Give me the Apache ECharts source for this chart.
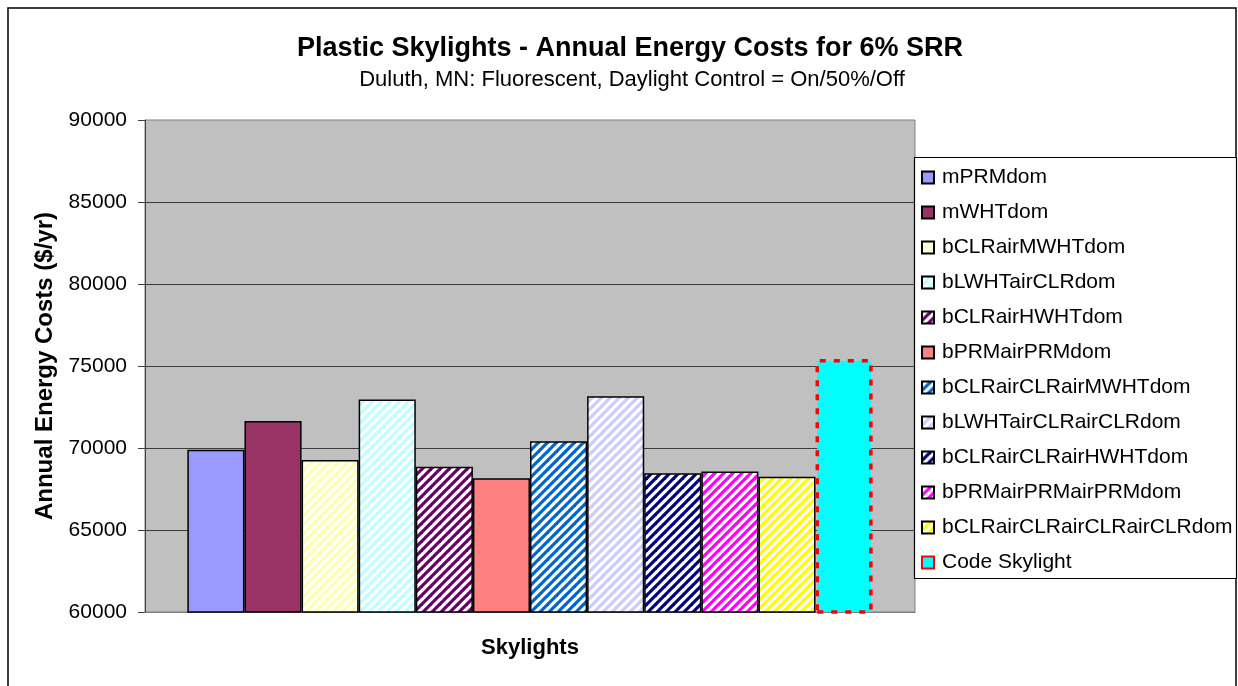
<!DOCTYPE html>
<html>
<head>
<meta charset="utf-8">
<script src="https://cdn.jsdelivr.net/npm/echarts@6/dist/echarts.min.js"></script>
<style>
  html, body { margin: 0; padding: 0; background: #fff; }
  #chart { width: 1238px; height: 686px; }
</style>
</head>
<body>
<div id="chart"></div>
<script>
// ---- data ----
const categories = ['Skylights'];
const seriesNames = [
  'mPRMdom', 'mWHTdom', 'bCLRairMWHTdom', 'bLWHTairCLRdom', 'bCLRairHWHTdom',
  'bPRMairPRMdom', 'bCLRairCLRairMWHTdom', 'bLWHTairCLRairCLRdom',
  'bCLRairCLRairHWHTdom', 'bPRMairPRMairPRMdom', 'bCLRairCLRairCLRairCLRdom', 'Code Skylight'
];
const costs = [69900, 71650, 69270, 72950, 68860, 68150, 70410, 73150, 68460, 68560, 68250, 75430];
const yTicks = [60000, 65000, 70000, 75000, 80000, 85000, 90000];

// ---- styles ----
const seriesColors = ['#9999FF', '#993366', '#FFFFB0', '#C0FFFF', '#660066', '#FF8080',
  '#0066CC', '#CCCCFF', '#000080', '#FF00FF', '#FFFF00', '#00FFFF'];
const striped = [false, false, true, true, true, false, true, true, true, true, true, false];

const FONT = 'Liberation Sans, Arial, sans-serif';

function stripePattern(color) {
  const T = 9;
  const c = document.createElement('canvas');
  c.width = T; c.height = T;
  const ctx = c.getContext('2d');
  ctx.fillStyle = '#FFFFFF';
  ctx.fillRect(0, 0, T, T);
  ctx.strokeStyle = color;
  ctx.lineWidth = 3.2;
  for (let k = -1; k <= 1; k++) {
    ctx.beginPath();
    ctx.moveTo(k * T - 2, T + 2);
    ctx.lineTo(k * T + T + 2, -2);
    ctx.stroke();
  }
  return { image: c, repeat: 'repeat' };
}

const series = seriesNames.map((name, i) => {
  const isCode = name === 'Code Skylight';
  return {
    name: name,
    type: 'bar',
    data: [costs[i]],
    barGap: '0%',
    barCategoryGap: '11%',
    itemStyle: {
      color: striped[i] ? stripePattern(seriesColors[i]) : seriesColors[i],
      borderColor: isCode ? '#FF0000' : '#000000',
      borderWidth: isCode ? 3.5 : 1.5,
      borderType: isCode ? [6, 8] : 'solid'
    },
    emphasis: { disabled: true }
  };
});

const chart = echarts.init(document.getElementById('chart'), null, { renderer: 'canvas' });
chart.setOption({
  animation: false,
  backgroundColor: '#FFFFFF',
  title: [
    {
      text: 'Plastic Skylights - Annual Energy Costs for 6% SRR',
      left: 630, top: 35, textAlign: 'center', padding: 0,
      textStyle: { fontFamily: FONT, fontSize: 27, fontWeight: 'bold', color: '#000' }
    },
    {
      text: 'Duluth, MN: Fluorescent, Daylight Control = On/50%/Off',
      left: 632, top: 69, textAlign: 'center', padding: 0,
      textStyle: { fontFamily: FONT, fontSize: 22, fontWeight: 'normal', color: '#000' }
    }
  ],
  graphic: [
    {
      type: 'rect', z: 0, silent: true,
      shape: { x: 8, y: 8, width: 1228, height: 700 },
      style: { fill: 'none', stroke: '#000', lineWidth: 1.5 }
    },
    {
      type: 'rect', z: 1, silent: true,
      shape: { x: 914.5, y: 157.5, width: 322, height: 421 },
      style: { fill: '#FFFFFF', stroke: '#000', lineWidth: 1.2 }
    }
  ],
  legend: {
    orient: 'vertical',
    left: 921, top: 167,
    padding: 0,
    itemWidth: 12, itemHeight: 12, itemGap: 14,
    icon: 'rect',
    selectedMode: false,
    data: seriesNames,
    textStyle: { fontFamily: FONT, fontSize: 21, lineHeight: 20, color: '#000', padding: [0, 0, 0, 3] }
  },
  grid: {
    left: 145, top: 120, width: 770, height: 492,
    show: true, backgroundColor: '#C0C0C0', borderColor: '#808080', borderWidth: 1
  },
  xAxis: {
    type: 'category',
    data: categories,
    name: 'Skylights',
    nameLocation: 'middle',
    nameGap: 25,
    nameTextStyle: { fontFamily: FONT, fontSize: 22, fontWeight: 'bold', color: '#000' },
    axisLabel: { show: false },
    axisTick: { show: false },
    axisLine: { lineStyle: { color: '#808080', width: 1 } }
  },
  yAxis: {
    type: 'value',
    min: yTicks[0], max: yTicks[yTicks.length - 1], interval: yTicks[1] - yTicks[0],
    name: 'Annual Energy Costs ($/yr)',
    nameLocation: 'middle',
    nameGap: 83,
    nameTextStyle: { fontFamily: FONT, fontSize: 24, fontWeight: 'bold', color: '#000' },
    axisLine: { show: true, lineStyle: { color: '#404040', width: 1 } },
    axisTick: { show: true, length: 7, lineStyle: { color: '#404040' } },
    axisLabel: { fontFamily: FONT, fontSize: 21, color: '#000', margin: 18, formatter: v => String(v) },
    splitLine: { show: true, showMinLine: false, showMaxLine: false, lineStyle: { color: '#3c3c3c', width: 1 } }
  },
  series: series
});
</script>
</body>
</html>
